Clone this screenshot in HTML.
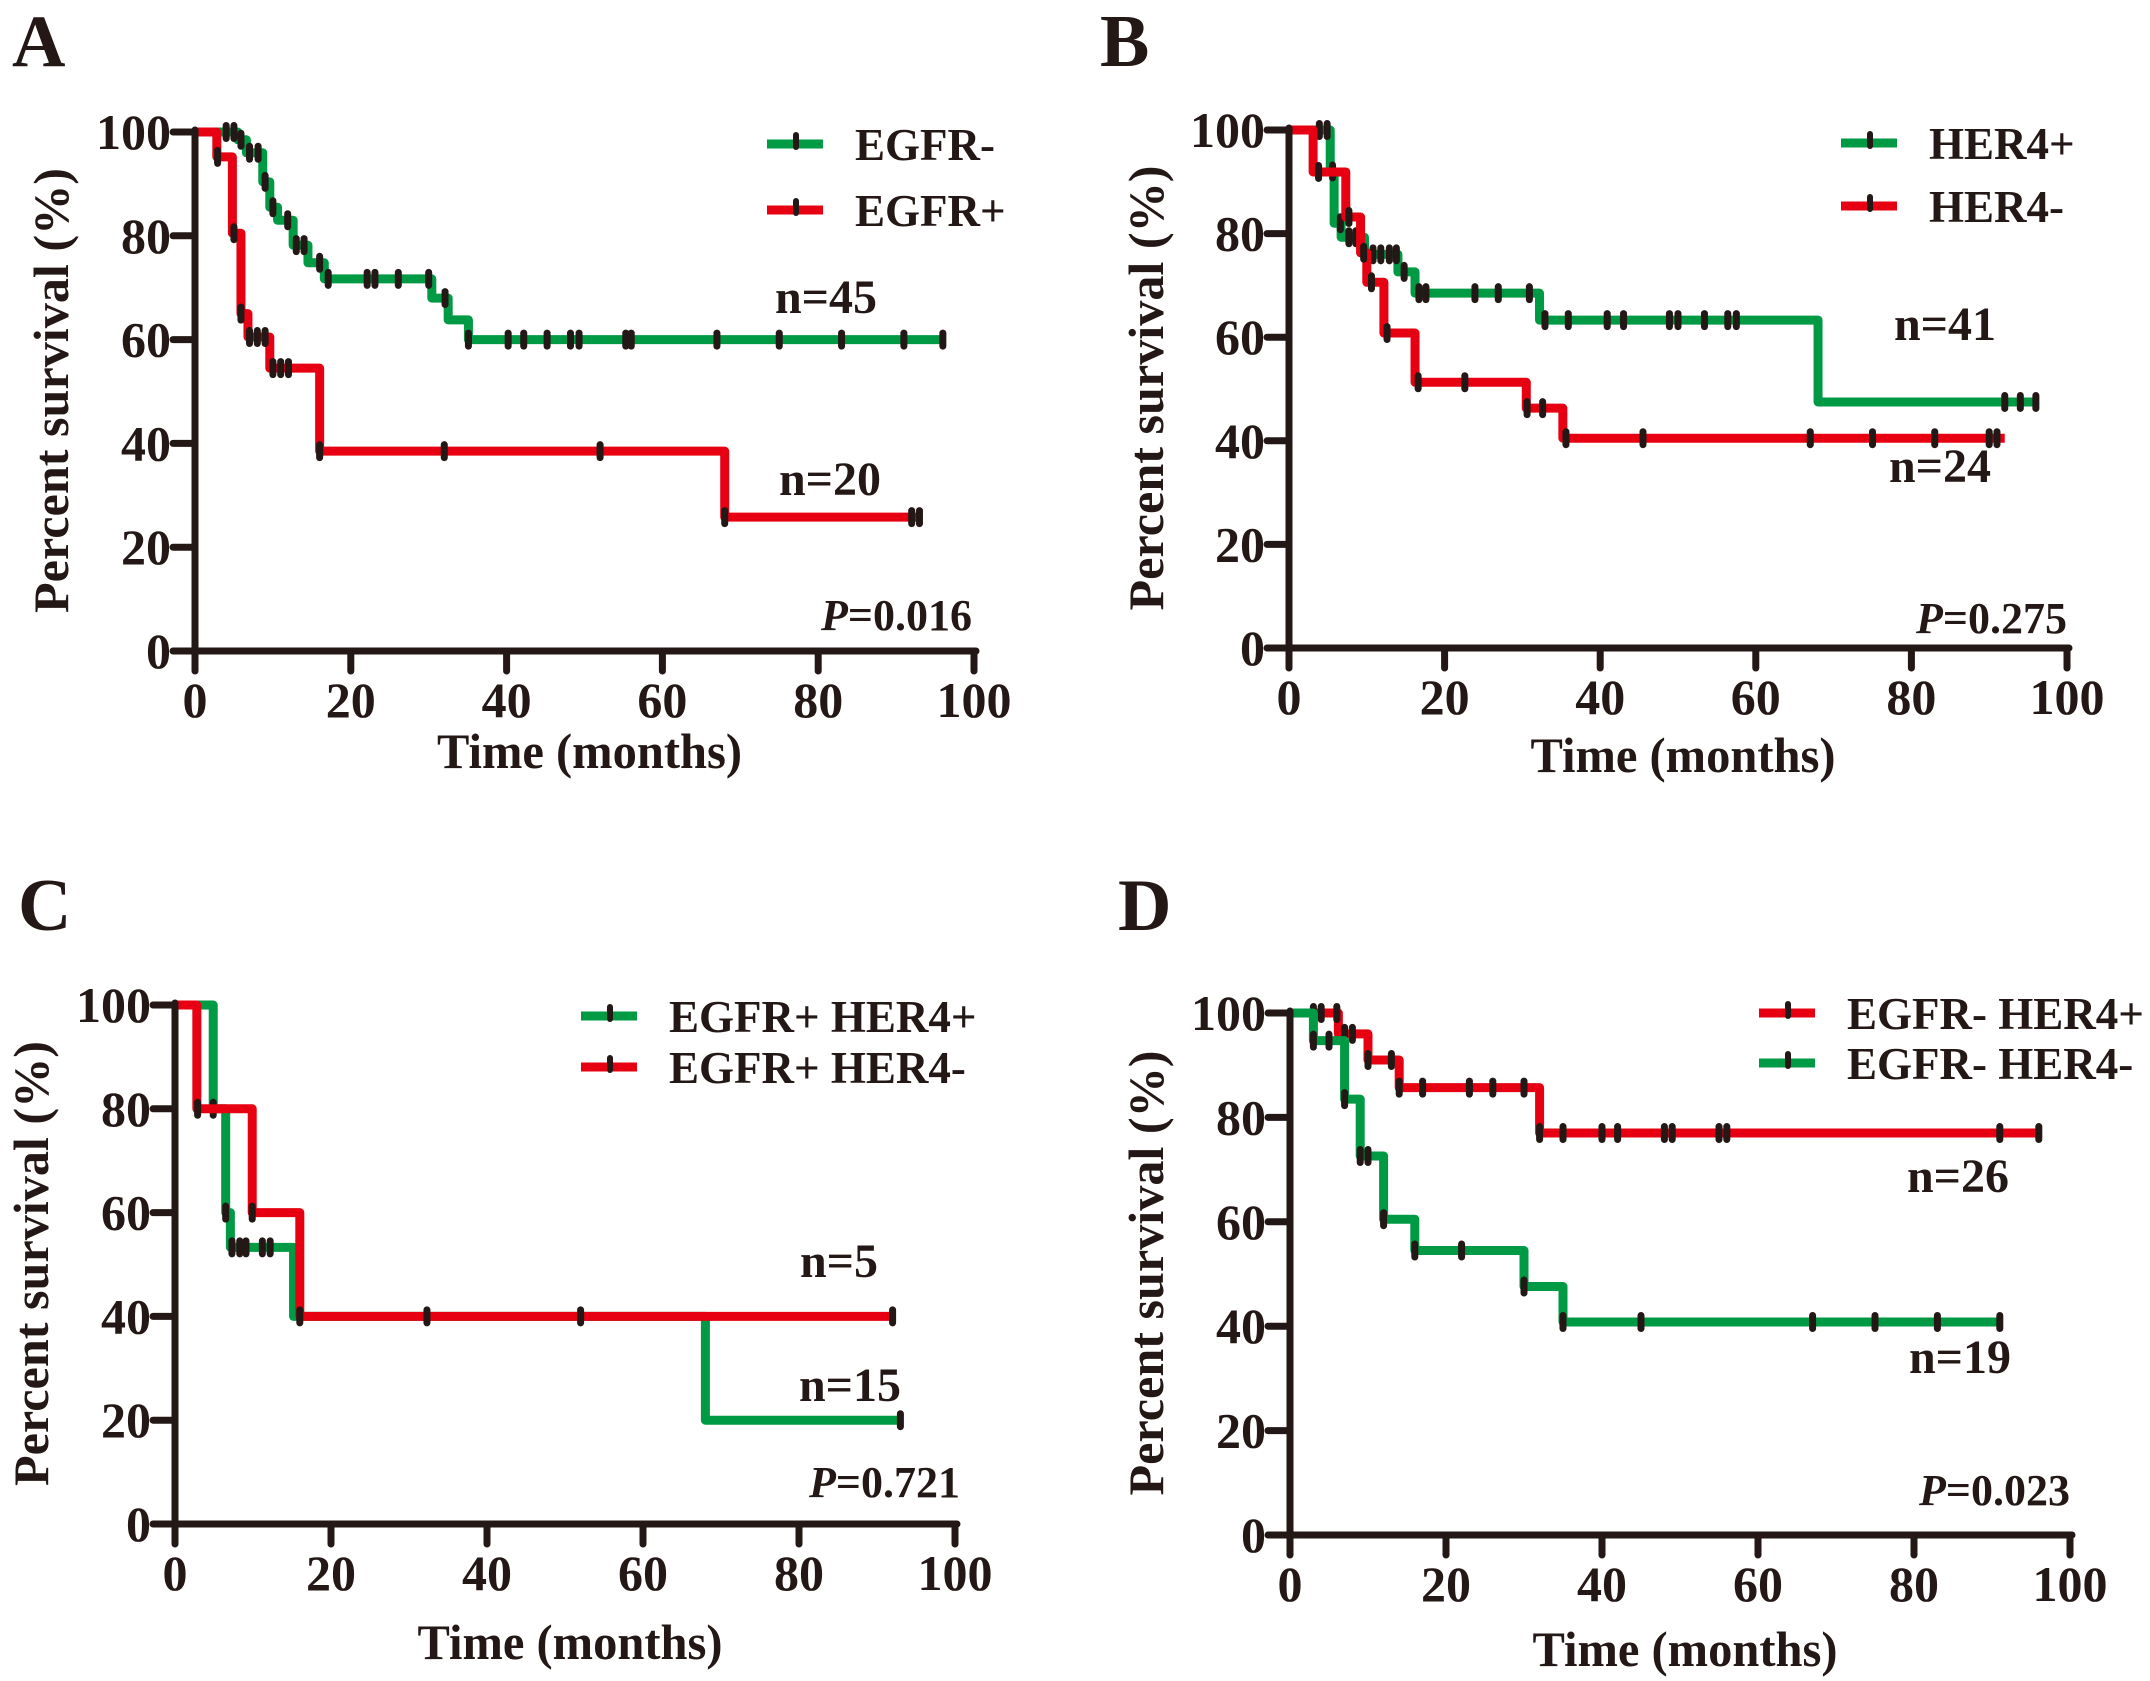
<!DOCTYPE html>
<html><head><meta charset="utf-8"><style>
html,body{margin:0;padding:0;background:#fff}
svg{display:block}
text{font-family:"Liberation Serif",serif;font-weight:bold;fill:#231815}
</style></head><body>
<svg id="fig" width="2150" height="1681" viewBox="0 0 2150 1681" xmlns="http://www.w3.org/2000/svg"></svg>
<script>
// ---- data ----
const xTicks = [0,20,40,60,80,100];
const yTicks = [0,20,40,60,80,100];
// Panel A
const aGreenT = [0,5.5,6.6,8.7,9.6,10.6,12.6,14.5,16.6,30.4,32.5,35.1,96];
const aGreenS = [100,98.5,96,90.4,85.5,83,78.2,74.8,71.7,68,63.8,60,60];
const aGreenC = [4,5,5.9,7,8.1,9,10,11.9,13,14,16,17.1,22.1,23.1,26.1,30,32.1,35.1,40.2,42.2,45.2,48.2,49.3,55.3,56,67,75,83,91,96];
const aRedT = [0,2.8,4.8,5.9,6.8,9.6,16,68,93];
const aRedS = [100,95.2,80.5,65,60.5,54.5,38.5,25.8,25.8];
const aRedC = [2.9,5,5.9,7,8,9,10,11,12,16,32,52,68,92,93];
// Panel B
const bGreenT = [0,5.3,5.8,6.7,9.7,14,16.2,32.2,68,96];
const bGreenS = [100,92,82,79.3,76,72.6,68.5,63.3,47.5,47.5];
const bGreenC = [3.9,4.9,5.6,6.6,7.7,8.6,10.8,11.8,12.9,13.8,14.8,16.7,17.6,23.9,26.9,30.9,32.9,35.9,40.9,43,48.9,50,53.4,56.4,57.5,92,94,96];
const bRedT = [0,3.1,7.3,9.2,10,12.2,16.2,30.5,35.2,92];
const bRedS = [100,91.9,83.2,76.3,70.6,60.8,51.3,46.3,40.5,40.5];
const bRedC = [3.8,7.7,9.6,10.6,12.6,16.6,22.6,30.6,32.6,35.6,45.5,67,75,83,90,91];
// Panel C
const cGreenT = [0,4.9,6.5,7.1,15.2,68,93];
const cGreenS = [100,80,60,53.3,40,20,20];
const cGreenC = [4.9,6.5,7.3,8.3,9.1,11.2,12.2,93];
const cRedT = [0,2.8,9.9,16,92];
const cRedS = [100,80,60,40,40];
const cRedC = [2.9,9.9,16,32.3,52,92];
// Panel D
const dRedT = [0,6.2,10,14,32,96];
const dRedS = [100,96,91,85.7,77,77];
const dRedC = [3,4,6,7,8,10,13,14,17,23,26,30,32,35,40,42,48,49,55,56,91,96];
const dGreenT = [0,3,7,9,12,16,30,35,91];
const dGreenS = [100,94.7,83.5,72.6,60.5,54.5,47.6,40.8,40.8];
const dGreenC = [3,5,7,9,10,12,16,22,30,35,45,67,75,83,91];

const GREEN = "#009a44", RED = "#e60012", BLACK = "#231815";
const NS = "http://www.w3.org/2000/svg";
const svg = document.getElementById('fig');

function mk(tag, attrs, parent){
  const e = document.createElementNS(NS, tag);
  for (const k in attrs) e.setAttribute(k, attrs[k]);
  (parent||svg).appendChild(e);
  return e;
}
function txt(str, attrs, parent){ const e = mk('text', attrs, parent); e.textContent = str; return e; }

function panel(p){
  const g = mk('g', {});
  
  
  const sx = v => p.x0 + (p.x1 - p.x0) * v / 100;
  const sy = v => p.y0 + (p.y1 - p.y0) * v / 100;
  const lab = txt(p.id, {x:p.lx, y:p.ly, 'font-size':74}, g);
  
  
  p.series.forEach(s => {
    let d = 'M' + sx(s.t[0]) + ' ' + sy(s.s[0]);
    for (let i = 1; i < s.t.length; i++){
      d += ' H' + sx(s.t[i]) + ' V' + sy(s.s[i]);
    }
    const path = mk('path', {d:d, fill:'none', stroke:s.color, 'stroke-width':9, 'stroke-linejoin':'round'}, g);
    
    
    s.c.forEach(ct => {
      let val = s.s[0];
      for (let i = 0; i < s.t.length; i++){ if (s.t[i] <= ct) val = s.s[i]; }
      const m = mk('rect', {x:sx(ct)-3.5, y:sy(val)-10, width:7, height:20, rx:3.5, fill:BLACK}, g);
      
      
    });
  });
  const ax = mk('path', {d:'M'+p.x0+' '+(p.y1-2)+' V'+p.y0+' H'+(p.x1+2), fill:'none', stroke:BLACK, 'stroke-width':7, 'stroke-linecap':'round'}, g);
  
  
  yTicks.forEach(v => {
    const tk = mk('line', {x1:p.x0-22, x2:p.x0, y1:sy(v), y2:sy(v), stroke:BLACK, 'stroke-width':7, 'stroke-linecap':'round'}, g);
    
    
    const tl = txt(String(v), {x:p.x0-24, y:sy(v)+17, 'font-size':50, 'text-anchor':'end'}, g);
    
    
  });
  xTicks.forEach(v => {
    const tk = mk('line', {x1:sx(v), x2:sx(v), y1:p.y0, y2:p.y0+20, stroke:BLACK, 'stroke-width':7, 'stroke-linecap':'round'}, g);
    
    
    const tl = txt(String(v), {x:sx(v), y:p.y0+66, 'font-size':50, 'text-anchor':'middle'}, g);
    
    
  });
  const xt = txt('Time (months)', {x:(p.x0+p.x1)/2+5, y:p.y0+p.xto, 'font-size':50, 'text-anchor':'middle', textLength:305, lengthAdjust:'spacingAndGlyphs'}, g);
  
  
  const yc = (p.y0+p.y1)/2 - 1;
  const yt = txt('Percent survival (%)', {x:0, y:0, 'font-size':50, 'text-anchor':'middle', textLength:445, lengthAdjust:'spacingAndGlyphs', transform:'translate('+p.ytx+','+yc+') rotate(-90)'}, g);
  
  
  p.legend.forEach((L, i) => {
    const ly = p.legY[i];
    const ll = mk('line', {x1:p.legX, x2:p.legX+56, y1:ly, y2:ly, stroke:L.color, 'stroke-width':9}, g);
    
    
    const lm = mk('rect', {x:p.legX+26, y:ly-12, width:6, height:18, rx:3, fill:BLACK}, g);
    
    
    const lt = txt(L.label, {x:p.legX+88, y:ly+16, 'font-size':45}, g);
    
    
  });
  p.nlabels.forEach(n => {
    const nt = txt(n.t, {x:n.x, y:n.y, 'font-size':48, 'text-anchor':'middle'}, g);
    
    
  });
  const pt = txt('', {x:p.px, y:p.py, 'font-size':44, 'text-anchor':'end'}, g);
  
  
  const pi = mk('tspan', {'font-style':'italic'}, pt); pi.textContent = 'P';
  const pr = mk('tspan', {}, pt); pr.textContent = p.pval;
}

panel({id:'A', lx:12, ly:66, x0:195, x1:974, y0:651, y1:132, ytx:68, xto:117,
  series:[{key:'egfr-neg', color:GREEN, t:aGreenT, s:aGreenS, c:aGreenC},
          {key:'egfr-pos', color:RED, t:aRedT, s:aRedS, c:aRedC}],
  legend:[{label:'EGFR-', color:GREEN},{label:'EGFR+', color:RED}], legX:767, legY:[144,210],
  nlabels:[{t:'n=45', x:826, y:313},{t:'n=20', x:830, y:495}], px:972, py:630, pval:'=0.016'});
panel({id:'B', lx:1100, ly:66, x0:1289, x1:2067, y0:648, y1:130, ytx:1163, xto:124,
  series:[{key:'her4-pos', color:GREEN, t:bGreenT, s:bGreenS, c:bGreenC},
          {key:'her4-neg', color:RED, t:bRedT, s:bRedS, c:bRedC}],
  legend:[{label:'HER4+', color:GREEN},{label:'HER4-', color:RED}], legX:1841, legY:[143,206],
  nlabels:[{t:'n=41', x:1945, y:340},{t:'n=24', x:1940, y:482}], px:2067, py:633, pval:'=0.275'});
panel({id:'C', lx:18, ly:930, x0:175, x1:955, y0:1524, y1:1005, ytx:48, xto:135,
  series:[{key:'egfr-pos-her4-pos', color:GREEN, t:cGreenT, s:cGreenS, c:cGreenC},
          {key:'egfr-pos-her4-neg', color:RED, t:cRedT, s:cRedS, c:cRedC}],
  legend:[{label:'EGFR+ HER4+', color:GREEN},{label:'EGFR+ HER4-', color:RED}], legX:581, legY:[1016,1067],
  nlabels:[{t:'n=5', x:839, y:1277},{t:'n=15', x:850, y:1401}], px:960, py:1497, pval:'=0.721'});
panel({id:'D', lx:1118, ly:930, x0:1290, x1:2070, y0:1535, y1:1013, ytx:1163, xto:131,
  series:[{key:'egfr-neg-her4-pos', color:RED, t:dRedT, s:dRedS, c:dRedC},
          {key:'egfr-neg-her4-neg', color:GREEN, t:dGreenT, s:dGreenS, c:dGreenC}],
  legend:[{label:'EGFR- HER4+', color:RED},{label:'EGFR- HER4-', color:GREEN}], legX:1759, legY:[1013,1063],
  nlabels:[{t:'n=26', x:1958, y:1192},{t:'n=19', x:1960, y:1373}], px:2070, py:1505, pval:'=0.023'});
</script>
</body></html>
